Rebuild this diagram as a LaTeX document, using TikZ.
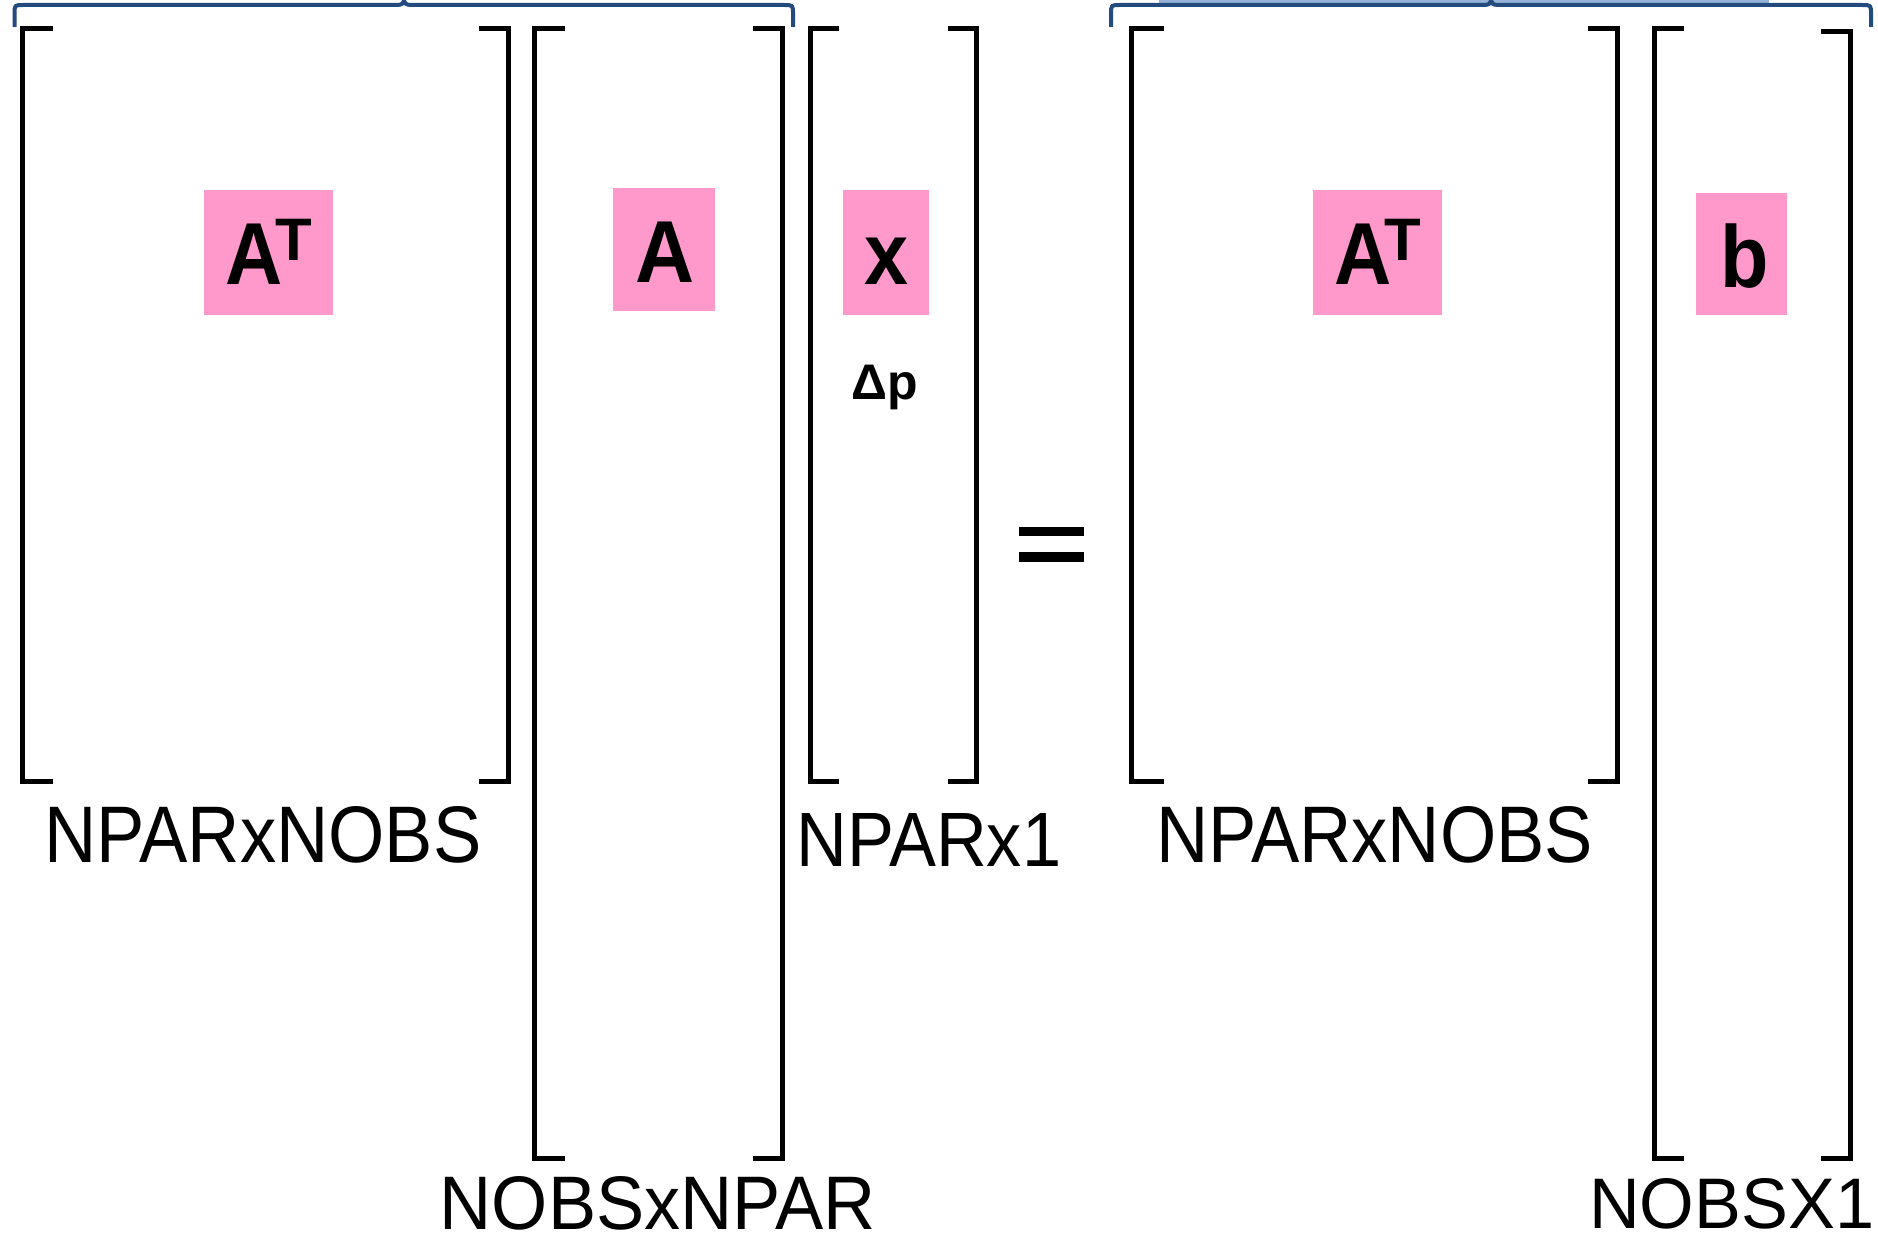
\documentclass[tikz,border=0pt]{standalone}
\usepackage{fontspec}
\setmainfont{Liberation Sans}
\usepackage{graphicx}
\definecolor{boxpink}{RGB}{255,153,204}
\definecolor{bracenavy}{RGB}{36,75,125}
\definecolor{bracelight}{RGB}{149,179,215}

% square matrix brackets: x, top, bottom, serif length
\newcommand\LeftBrk[4]{\draw[brk] ({#1+#4},#2) -- (#1,#2) -- (#1,#3) -- ({#1+#4},#3);}
\newcommand\RightBrk[4]{\draw[brk] ({#1-#4},#2) -- (#1,#2) -- (#1,#3) -- ({#1-#4},#3);}
% horizontal curly brace over a product: left x, right x, middle x
\newcommand\TopBrace[3]{\draw[bracepath] (#1,27) -- (#1,14) .. controls (#1,5) .. ({#1+9},5)
  -- ({#3-7},5) .. controls ({#3-2},5) and (#3,3) .. (#3,0.8)
  .. controls (#3,3) and ({#3+2},5) .. ({#3+7},5)
  -- ({#2-9},5) .. controls (#2,5) .. (#2,14) -- (#2,27);}
% bold transposed A
\newcommand\TransA{\fontsize{88}{88}\selectfont\scalebox{0.9}[1]{A}\kern-7pt\raisebox{24pt}{\fontsize{60}{60}\selectfont T}}

\tikzset{
  brk/.style={line width=5pt, line join=miter, line cap=butt, black},
  pinkbox/.style={fill=boxpink, draw=none, inner sep=0pt, outer sep=0pt},
  bracepath/.style={line width=4pt, bracenavy, line join=round},
  symb/.style={inner sep=0pt, anchor=base, font=\bfseries},
  dimlabel/.style={inner sep=0pt, anchor=base west, font=\fontsize{70}{70}\selectfont},
}

\begin{document}
\begin{tikzpicture}[x=1pt, y=-1pt]
  \useasboundingbox[fill=white] (0,0) rectangle (1878,1236);

  % braces grouping the two products
  \fill[bracelight] (1159,0) rectangle (1769,2.8);
  \TopBrace{14.5}{793}{404}
  \TopBrace{1111}{1871}{1491}

  % left-hand side: A^T A x
  \LeftBrk{22.5}{28.5}{781}{30}
  \RightBrk{508}{28.5}{781}{29}
  \LeftBrk{534}{28.5}{1158}{31}
  \RightBrk{782}{28.5}{1158}{29}
  \LeftBrk{810}{28.5}{781}{29}
  \RightBrk{976}{28.5}{781}{28}

  % equals sign
  \fill (1019,527) rectangle (1084,536);
  \fill (1019,552) rectangle (1084,562);

  % right-hand side: A^T b
  \LeftBrk{1131}{28.5}{781}{33}
  \RightBrk{1617}{28.5}{781}{29}
  \LeftBrk{1654}{28.5}{1158}{30}
  \RightBrk{1850}{32}{1158}{29}

  % highlighted symbols
  \node[pinkbox, minimum width=129.4pt, minimum height=124.6pt] (boxAT1) at (268.3,252.7) {};
  \node[pinkbox, minimum width=102pt, minimum height=123pt] (boxA) at (664,249.5) {};
  \node[pinkbox, minimum width=86pt, minimum height=124.6pt] (boxX) at (886,252.7) {};
  \node[pinkbox, minimum width=129.3pt, minimum height=124.6pt] (boxAT2) at (1377.3,252.7) {};
  \node[pinkbox, minimum width=91pt, minimum height=122pt] (boxB) at (1741.5,254) {};

  \node[symb] (symAT1) at (269,284) {\TransA};
  \node[symb] (symA) at (665.5,282.5) {\fontsize{88}{88}\selectfont\scalebox{0.93}[1]{A}};
  \node[symb] (symX) at (887,284) {\fontsize{88}{88}\selectfont\scalebox{0.9}[1]{x}};
  \node[symb] (symAT2) at (1378,284) {\TransA};
  \node[symb] (symB) at (1744.5,287.5) {\fontsize{88}{88}\selectfont\scalebox{0.9}[1]{b}};
  \node[symb] (dp) at (885,399) {\fontsize{50}{50}\selectfont Δp};

  % dimensions
  \node[dimlabel] (dimAT1) at (44.3,862) {\resizebox{437pt}{56pt}{NPARxNOBS}};
  \node[dimlabel] (dimA) at (439.6,1229) {\resizebox{436pt}{53pt}{NOBSxNPAR}};
  \node[dimlabel] (dimX) at (796.5,866) {\resizebox{264.5pt}{53pt}{NPARx1}};
  \node[dimlabel] (dimAT2) at (1155.8,862) {\resizebox{437pt}{56pt}{NPARxNOBS}};
  \node[dimlabel] (dimB) at (1589,1228) {\resizebox{285pt}{50pt}{NOBSX1}};
\end{tikzpicture}
\end{document}
